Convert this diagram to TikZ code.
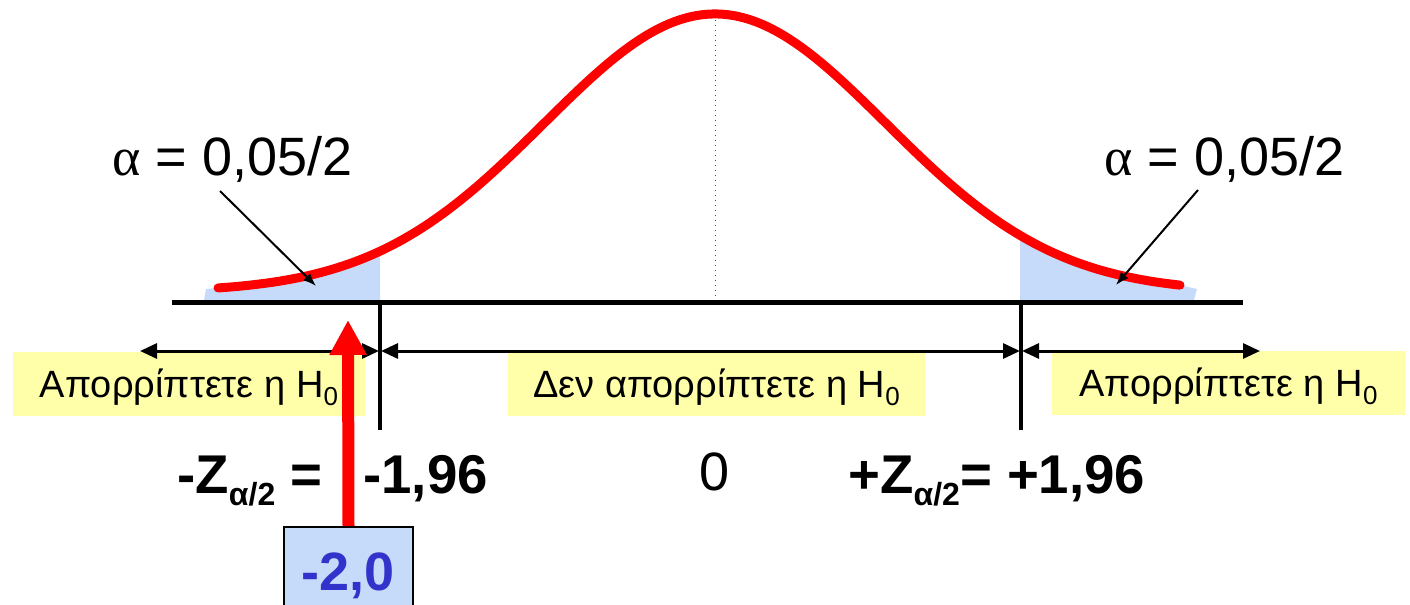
\documentclass[tikz,border=0pt]{standalone}
\usepackage{fontspec}
\setmainfont{Liberation Sans}
\newfontfamily\serifalpha{Liberation Serif}
\usetikzlibrary{arrows.meta}
\definecolor{paleyellow}{HTML}{FFFFAA}
\definecolor{paleblue}{HTML}{C6DBF9}
\definecolor{numblue}{HTML}{3333CC}
\newcommand{\hsub}[1]{\raisebox{-4pt}{\fontsize{13}{13}\selectfont #1}}
\newcommand{\zsub}[1]{\raisebox{-6pt}{\fontsize{16}{16}\selectfont #1}}
\newcommand{\gaussy}[1]{292-278*exp(-0.5*(((#1)-715)/171)^2)}
\begin{document}
\begin{tikzpicture}[x=0.5pt,y=-0.5pt]
\useasboundingbox (0,0) rectangle (1410,605);
\tikzset{
  ybox/.style={fill=paleyellow, draw=none, inner sep=0pt, minimum height=32pt,
    text height=18.5pt, text depth=5pt, font=\fontsize{19}{22}\selectfont},
  shadeblue/.style={fill=paleblue},
  axisline/.style={line width=2.5pt, black},
  vline/.style={line width=2pt, black},
  spanarrow/.style={line width=1.5pt, {Triangle[length=8.5pt,width=7.5pt]}-{Triangle[length=8.5pt,width=7.5pt]}},
  pointer/.style={line width=1pt, -{Latex[length=6.5pt,width=5pt]}},
  alphalbl/.style={inner sep=0pt, anchor=base west, font=\fontsize{27}{30}\selectfont},
  zlbl/.style={inner sep=0pt, anchor=base west, font=\fontsize{27.3}{30}\selectfont\bfseries},
  curve/.style={line width=4.5pt, red, line cap=round, line join=round},
  bigarrow/.style={line width=6pt, red, -{Triangle[length=17.5pt,width=17.5pt]}},
  valbox/.style={draw=black, line width=1pt, fill=paleblue, inner sep=0pt,
    minimum width=64.5pt, minimum height=46.5pt, text height=19.5pt, text depth=3pt,
    font=\fontsize{27}{30}\selectfont\bfseries, text=numblue}
}
% shaded tails
\fill[shadeblue] (204,300) -- (206,289) -- plot[domain=218:380,samples=40] (\x,{\gaussy{\x}}) -- (380,300) -- cycle;
\fill[shadeblue] (1020,300) -- plot[domain=1020:1180,samples=40] (\x,{\gaussy{\x}}) -- (1197,289) -- (1194,300) -- cycle;
% dotted centre line
\coordinate (peak) at (715,15);
\coordinate (centre) at (715,300);
\draw[line width=0.5pt, dotted, black!70] (peak) -- (centre);
% axis
\coordinate (axL) at (172,302);
\coordinate (axR) at (1243,302);
\draw[axisline] (axL) -- (axR);
% critical lines
\coordinate (cl1) at (380,302);
\coordinate (cl1b) at (380,430);
\coordinate (cr1) at (1021,302);
\coordinate (cr1b) at (1021,430);
\draw[vline] (cl1) -- (cl1b);
\draw[vline] (cr1) -- (cr1b);
% curve
\draw[curve] plot[domain=218:1180,samples=120,smooth] (\x,{\gaussy{\x}});
% yellow boxes
\node[ybox, minimum width=176pt] (rejL) at (189,383.5) {Απορρίπτετε η H\hsub{0}};
\node[ybox, minimum width=208.5pt] (acc) at (716.5,384) {Δεν απορρίπτετε η H\hsub{0}};
\node[ybox, minimum width=176.5pt] (rejR) at (1228.5,383) {Απορρίπτετε η H\hsub{0}};
% span arrows
\coordinate (a1) at (140,351);
\coordinate (a2) at (379,351);
\coordinate (a3) at (381,351);
\coordinate (a4) at (1020,351);
\coordinate (a5) at (1022,351);
\coordinate (a6) at (1260,351);
\draw[spanarrow] (a2) -- (a1);
\draw[spanarrow] (a3) -- (a4);
\draw[spanarrow] (a5) -- (a6);
% alpha labels and pointers
\node[alphalbl] (alL) at (112,175) {{\serifalpha α} = 0,05/2};
\node[alphalbl] (alR) at (1104,175) {{\serifalpha α} = 0,05/2};
\coordinate (pL0) at (220,191);
\coordinate (pL1) at (316,286);
\coordinate (pR0) at (1198,190);
\coordinate (pR1) at (1116,285);
\draw[pointer] (pL0) -- (pL1);
\draw[pointer] (pR0) -- (pR1);
% bottom labels
\node[zlbl] (zneg) at (177,493) {-Z\zsub{α/2} =};
\node[zlbl] (vneg) at (363,493) {-1,96};
\node[inner sep=0pt, anchor=base, font=\fontsize{27}{30}\selectfont] (zero) at (715,490) {0};
\node[zlbl] (zpos) at (848,493) {+Z\zsub{α/2}= +1,96};
% value box and red arrow
\node[valbox] (val) at (348.5,573.5) {-2,0};
\coordinate (tip) at (348,320);
\draw[bigarrow] (val.north) -- (tip);
\end{tikzpicture}
\end{document}
